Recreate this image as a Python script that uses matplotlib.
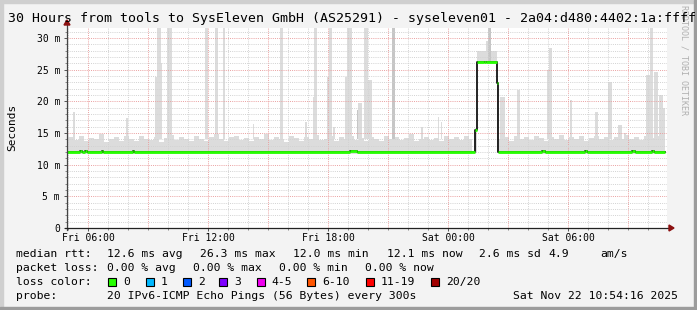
import matplotlib
matplotlib.use("Agg")
import matplotlib.pyplot as plt
import numpy as np
from matplotlib.patches import Rectangle, Polygon

W, H = 697, 310
MONO = "DejaVu Sans Mono"

# ---------------- data ----------------
title = "30 Hours from tools to SysEleven GmbH (AS25291) - syseleven01 - 2a04:d480:4402:1a:ffff"
t_start, t_end = 4.95, 34.95          # hours since Fri 00:00
data_end = 34.85
xtick_pos = [6, 12, 18, 24, 30]
xtick_labels = ["Fri 06:00", "Fri 12:00", "Fri 18:00", "Sat 00:00", "Sat 06:00"]
ytick_pos = [0, 5, 10, 15, 20, 25, 30]
ytick_labels = ["0", "5 m", "10 m", "15 m", "20 m", "25 m", "30 m"]
y_max = 31.6

# smoke base band top, quarter-hour blocks (ms)
band_top = [14.4, 13.9, 14.6, 13.7, 14.2, 14.0, 14.8, 13.6, 14.1, 14.3,
            13.8, 14.5, 14.0, 13.7, 14.6, 14.1, 13.9, 14.4, 13.6, 14.2,
            14.7, 13.9, 14.3, 14.0, 13.8, 14.5, 14.1, 13.7, 14.4, 14.9,
            14.0, 13.8, 14.3, 14.6, 13.9, 14.2, 13.7, 14.4, 14.1, 14.8,
            13.9, 14.3, 14.0, 13.6, 14.5, 14.2, 13.8, 14.4, 14.0, 14.7,
            13.9, 14.1, 14.5, 13.8, 14.3, 14.0, 14.6, 13.9, 14.2, 13.7,
            14.4, 14.1, 13.8, 14.6, 14.0, 14.3, 13.9, 14.2, 14.8, 13.8,
            14.1, 14.4, 13.9, 14.2, 13.7, 14.5, 14.0, 14.3, 13.9, 14.6,
            14.1, 14.0, 14.0, 14.0, 14.0, 14.0, 14.0, 14.3, 13.8, 14.5,
            14.1, 14.4, 13.9, 14.6, 14.2, 13.8, 14.4, 14.0, 14.7, 13.9,
            14.3, 14.1, 14.5, 13.8, 14.2, 14.6, 14.0, 14.4, 13.9, 14.3,
            14.1, 14.7, 14.0, 14.4, 13.9, 14.5, 14.2, 14.6, 14.3, 14.5]
band_bottom = 11.75
step_gap = (25.35, 26.52)

# smoke spikes (hours, ms)
spike_start = [5.23, 7.90, 9.35, 9.47, 9.63, 9.93, 11.85, 12.35, 12.73, 14.23,
               15.60, 16.85, 17.23, 17.32, 17.97, 18.07, 18.27, 18.85, 18.93, 19.43,
               19.50, 19.82, 19.98, 21.18, 22.67, 23.48, 23.65,
               25.35, 25.43, 25.90, 26.00, 26.43,
               26.60, 27.43, 28.93, 29.07, 30.10, 31.33, 31.98, 32.52, 32.80,
               33.90, 34.10, 34.32, 34.57, 34.77]
spike_end = [5.33, 7.98, 9.50, 9.63, 9.72, 10.18, 12.00, 12.52, 12.85, 14.32,
             15.77, 16.93, 17.43, 17.43, 18.18, 18.18, 18.35, 18.97, 19.18, 19.57,
             19.68, 19.98, 20.18, 21.35, 22.75, 23.55, 23.72,
             25.43, 26.43, 26.05, 26.15, 26.52,
             26.85, 27.60, 29.10, 29.20, 30.20, 31.50, 32.20, 32.68, 32.90,
             34.10, 34.27, 34.52, 34.77, 34.85]
spike_low = [14.0] * 27 + [11.9, 25.9, 26.0, 26.0, 11.9] + [14.0] * 14
spike_top = [18.4, 17.4, 23.9, 31.6, 26.0, 31.6, 31.6, 31.6, 31.6, 16.5,
             31.6, 16.8, 20.7, 31.6, 23.9, 31.6, 16.0, 23.9, 31.6, 18.6,
             19.7, 31.6, 23.4, 31.6, 16.0, 17.5, 16.8,
             15.8, 28.0, 29.5, 31.6, 23.5,
             20.7, 21.8, 25.0, 28.4, 20.2, 18.4, 23.1, 16.3, 15.0,
             24.2, 31.6, 24.7, 21.0, 19.0]
spike_dark = [False] * 46
for i in (19, 23, 30):
    spike_dark[i] = True

# median rtt (step segments)
med_start = [4.95, 5.60, 5.70, 5.85, 5.95, 6.68, 6.73, 8.25, 8.30, 19.10, 19.45,
             25.35, 25.43, 25.80, 25.90, 26.43, 26.52, 28.68, 28.85, 30.85, 30.95,
             33.18, 33.35, 34.18, 34.30]
med_value = [12.05, 12.2, 12.05, 12.2, 12.05, 12.2, 12.05, 12.2, 12.05, 12.2, 12.05,
             15.5, 26.3, 26.15, 26.3, 22.9, 12.05, 12.2, 12.05, 12.2, 12.05,
             12.2, 12.05, 12.2, 12.05]

# legend texts
legend_rows = [
    [("median rtt:", 16), ("12.6 ms avg", 107.3), ("26.3 ms max", 200), ("12.0 ms min", 293.3),
     ("12.1 ms now", 386.7), ("2.6 ms sd", 479.3), ("4.9", 548.3), ("am/s", 600)],
    [("packet loss:", 16), ("0.00 % avg", 107.3), ("0.00 % max", 193.3), ("0.00 % min", 279.3),
     ("0.00 % now", 365)],
    [("loss color:", 16)],
    [("probe:", 16), ("20 IPv6-ICMP Echo Pings (56 Bytes) every 300s", 107.3),
     ("Sat Nov 22 10:54:16 2025", 513.3)],
]
legend_y = [254, 268, 282, 296]
loss_labels = ["0", "1", "2", "3", "4-5", "6-10", "11-19", "20/20"]
loss_colors = ["#26ff00", "#00b8ff", "#0059ff", "#7e00ff", "#f000f0", "#ff5500", "#ff0000", "#a10000"]
loss_box_x = [108.3, 145.7, 182.7, 219.3, 256.7, 307.3, 365.7, 430.7]

# ---------------- figure ----------------
fig = plt.figure(figsize=(W / 100, H / 100), dpi=100)
fig.patch.set_facecolor("#f3f3f3")


def fx(x):
    return x / W


def fy(y):
    return 1 - y / H


# frame
fig.patches.append(Rectangle((0, fy(3)), 1, 3 / H, transform=fig.transFigure, color="#cfcfcf", zorder=0))
fig.patches.append(Rectangle((0, 0), 3 / W, 1, transform=fig.transFigure, color="#cfcfcf", zorder=0))
fig.patches.append(Rectangle((fx(694), 0), 3 / W, 1, transform=fig.transFigure, color="#9c9c9c", zorder=1))
fig.patches.append(Rectangle((0, 0), 1, 3 / H, transform=fig.transFigure, color="#9c9c9c", zorder=1))

ax_l, ax_r, ax_t, ax_b = 67, 667, 28, 228
ax = fig.add_axes([fx(ax_l), fy(ax_b), (ax_r - ax_l) / W, (ax_b - ax_t) / H])
ax.set_facecolor("white")
ax.set_xlim(t_start, t_end)
ax.set_ylim(0, y_max)

# smoke base band
t = np.arange(t_start, data_end, 1 / 12)
idx = ((t - t_start) // 0.25).astype(int)
top = np.array(band_top)[idx]
bot = np.full_like(top, band_bottom)
gap = (t >= step_gap[0] - 1 / 12) & (t < step_gap[1])
top[gap] = np.nan
bot[gap] = np.nan
te = np.append(t, data_end)
ax.fill_between(te, np.append(bot, bot[-1]), np.append(top, top[-1]), step="post",
                color="#dcdcdc", lw=0, zorder=1)

# spikes
for s, e, lo, hi, dk in zip(spike_start, spike_end, spike_low, spike_top, spike_dark):
    ax.bar(s, hi - lo, width=e - s, bottom=lo, align="edge",
           color="#c6c6c6" if dk else "#dcdcdc", lw=0, zorder=1)

# grid
dots = (0, (1, 1.2))
for h in range(5, 35):
    major = h % 3 == 0
    ax.axvline(h, color="#eaa0a0" if major else "#d2d2d2", lw=0.7, ls=dots, zorder=2)
for v in range(1, 32):
    major = v % 5 == 0
    ax.axhline(v, color="#eaa0a0" if major else "#d2d2d2", lw=0.7, ls=dots, zorder=2)

# median
mx = med_start + [data_end]
my = med_value + [med_value[-1]]
ax.plot(mx, my, drawstyle="steps-post", color="black", lw=1.2, zorder=4)
ax.hlines(med_value, med_start, med_start[1:] + [data_end], color="#26ff00", lw=2.0, zorder=5)

# axes styling
for sp in ax.spines.values():
    sp.set_visible(False)
ax.set_xticks(xtick_pos)
ax.set_xticklabels(xtick_labels, fontfamily=MONO, fontsize=7)
ax.set_xticks(list(range(5, 35)), minor=True)
ax.set_yticks(ytick_pos)
ax.set_yticklabels(ytick_labels, fontfamily=MONO, fontsize=7)
ax.set_yticks(list(range(1, 32)), minor=True)
ax.tick_params(axis="both", which="major", length=2.5, width=0.7, color="#555555", pad=2.5)
ax.tick_params(axis="both", which="minor", length=1.5, width=0.7, color="#888888")
ax.tick_params(axis="x", which="major", pad=1.2)

# axis lines with arrows (in pixel space)
fig.add_artist(plt.Line2D([fx(ax_l), fx(ax_l)], [fy(ax_b + 2), fy(23)], transform=fig.transFigure,
                          color="#444444", lw=0.9, zorder=6))
fig.add_artist(plt.Line2D([fx(ax_l - 2), fx(670)], [fy(ax_b), fy(ax_b)], transform=fig.transFigure,
                          color="#222222", lw=0.9, zorder=6))
fig.patches.append(Polygon([(fx(ax_l - 3), fy(25)), (fx(ax_l + 3), fy(25)), (fx(ax_l), fy(20))],
                           closed=True, transform=fig.transFigure, color="#8b1010", zorder=7))
fig.patches.append(Polygon([(fx(669), fy(ax_b - 3)), (fx(669), fy(ax_b + 3)), (fx(674), fy(ax_b))],
                           closed=True, transform=fig.transFigure, color="#8b1010", zorder=7))

# title and labels
fig.text(fx(8), fy(18.5), title, fontfamily=MONO, fontsize=9.5, ha="left", va="center", zorder=8)
fig.text(fx(12), fy(127), "Seconds", fontfamily=MONO, fontsize=8, rotation=90, ha="center", va="center")
fig.text(fx(684), fy(5), "RRDTOOL / TOBI OETIKER", fontfamily=MONO, fontsize=6, rotation=270,
         ha="center", va="top", color="#b0b0b0", zorder=2)

# legend
for row, y in zip(legend_rows, legend_y):
    for txt, x in row:
        fig.text(fx(x), fy(y), txt, fontfamily=MONO, fontsize=8.2, ha="left", va="center")
for lab, col, bx in zip(loss_labels, loss_colors, loss_box_x):
    fig.patches.append(Rectangle((fx(bx), fy(286)), 8 / W, 8 / H, transform=fig.transFigure,
                                 facecolor=col, edgecolor="black", lw=0.8, zorder=5))
    fig.text(fx(bx + 15), fy(282), lab, fontfamily=MONO, fontsize=8.2, ha="left", va="center")

fig.savefig("out.png", dpi=100, facecolor=fig.get_facecolor())
